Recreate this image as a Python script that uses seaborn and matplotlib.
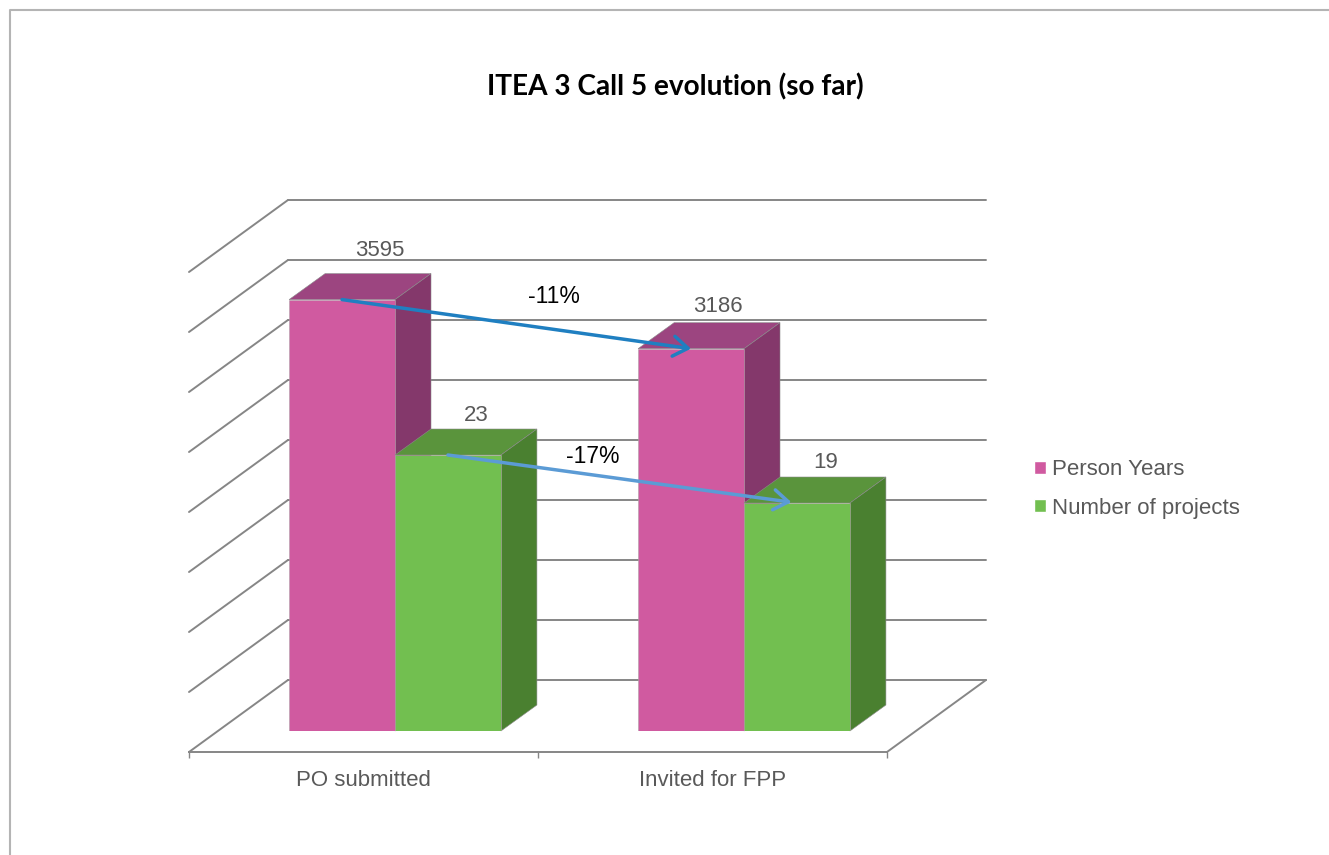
from matplotlib import pyplot as plt
from matplotlib.lines import Line2D
import pandas as pd
import seaborn as sns

stages = ['PO submitted', 'Invited for FPP']
person_years = [3595, 3186]
projects = [23, 19]
series_names = ['Person Years', 'Number of projects']
y_ticks = [0, 500, 1000, 1500, 2000, 2500, 3000, 3500, 4000]

# projects sit on their own axis, 1 project is as tall as 100 person years
PROJECT_SCALE = 100

W, H = 1329, 855
GREY_TEXT = '#595959'
GRID = '#868686'
FRONT = ['#D05AA0', '#72BF50']
TOP = ['#9C4580', '#5A943C']
SIDE = ['#84386B', '#4A8030']
ARROWS = ['#1F7FC1', '#5B9BD5']

# one unit on x is 349 px, one unit on y is 0.12 px
BAR_DX = 36 / 349
BAR_DY = 26 / 0.12
WALL_DX = 99 / 349
WALL_DY = 72 / 0.12

# (x, y) px nudges of the value labels from the back top edge of the bars
LABEL_SHIFT = [[(2, 23), (-9, 16)], [(-8, 14), (-7, 15)]]
# px nudges of the percent labels from the arrow middle
PCT_SHIFT = [(37, 28), (-30, 23)]
# px the arrow heads stop short of the bar centre
ARROW_SHRINK = [0, 4]


def axes_at(fig, left, base, zorder):
    # 2 categories over 698 px and 4000 units over 480 px, base is px from top
    ax = fig.add_axes([left / W, (H - base) / H, 698 / W, 480 / H], zorder=zorder)
    ax.set_xlim(-0.5, 1.5)
    ax.set_ylim(0, 4000)
    ax.patch.set_visible(False)
    ax.spines[['top', 'left', 'right', 'bottom']].set_visible(False)
    ax.set_yticks([])
    return ax


sns.set_theme(style='white')
plt.rcParams['font.family'] = ['Liberation Sans', 'DejaVu Sans']

df = pd.DataFrame({
    'stage': stages * 2,
    'series': [series_names[0]] * 2 + [series_names[1]] * 2,
    'value': person_years + [p * PROJECT_SCALE for p in projects],
})

fig = plt.figure(figsize=(W / 100, H / 100), dpi=100, facecolor='white')

# outer frame of the slide
fig.add_artist(Line2D([10 / W, 10 / W, 1], [0, 1 - 10 / H, 1 - 10 / H], color='#B4B4B4', lw=1.5))

# back wall with the gridlines
wall = axes_at(fig, 288, 680, 0)
wall.set_yticks(y_ticks)
wall.set_yticklabels([])
wall.set_xticks([])
wall.tick_params(length=0)
wall.grid(axis='y', color=GRID, lw=1.4)
wall.grid(axis='x', visible=False)
for gridline in wall.get_ygridlines():
    gridline.set_clip_on(False)

# front edge of the floor, carries the category labels
front = axes_at(fig, 189, 752, 1)
front.spines['bottom'].set_visible(True)
front.spines['bottom'].set_color(GRID)
front.spines['bottom'].set_linewidth(1.4)
front.set_xticks([0, 1])
front.set_xticklabels(stages, fontsize=16, color=GREY_TEXT)
front.set_xticks([-0.5, 0.5, 1.5], minor=True)
front.tick_params(axis='x', which='major', length=0, pad=13)
front.tick_params(axis='x', which='minor', length=4, width=1, color=GRID, bottom=True)
for t in y_ticks:
    front.plot([-0.5, -0.5 + WALL_DX], [t, t + WALL_DY], color=GRID, lw=1.4, clip_on=False, zorder=1)
front.plot([1.5, 1.5 + WALL_DX], [0, WALL_DY], color=GRID, lw=1.4, clip_on=False)

# the bars
ax = axes_at(fig, 220.5, 731, 2)
sns.barplot(data=df, x='stage', y='value', hue='series', palette=FRONT, hue_order=series_names,
            order=stages, width=0.607, gap=0, saturation=1, ax=ax)
ax.set_xlim(-0.5, 1.5)
ax.set_ylim(0, 4000)
ax.set_xlabel('')
ax.set_ylabel('')
ax.set_xticks([])
ax.set_yticks([])

tops = []
for s, container in enumerate(ax.containers):
    tops.append([])
    for i, bar in enumerate(container):
        x0 = bar.get_x()
        x1 = x0 + bar.get_width()
        h = bar.get_height()
        z = 2 + s
        bar.set_zorder(z + 0.5)
        bar.set_edgecolor('#B0A0A8')
        bar.set_linewidth(0.4)
        ax.fill([x0, x1, x1 + BAR_DX, x0 + BAR_DX], [h, h, h + BAR_DY, h + BAR_DY],
                color=TOP[s], lw=0.4, ec='#8A8A8A', zorder=z, clip_on=False)
        ax.fill([x1, x1, x1 + BAR_DX, x1 + BAR_DX], [0, h, h + BAR_DY, BAR_DY],
                color=SIDE[s], lw=0.4, ec='#8A8A8A', zorder=z, clip_on=False)
        tops[s].append(((x0 + x1) / 2, h))

        raw = [person_years, projects][s][i]
        sx, sy = LABEL_SHIFT[s][i]
        ax.annotate(str(raw), ((x0 + x1) / 2 + BAR_DX, h + BAR_DY), xytext=(sx * 0.72, sy * 0.72),
                    textcoords='offset points', ha='center', va='center', fontsize=16,
                    color=GREY_TEXT, zorder=8, annotation_clip=False)

# change arrows from the first stage to the second, with their percent
for s, values in enumerate([person_years, projects]):
    (xa, ya), (xb, yb) = tops[s]
    ax.annotate('', xy=(xb, yb), xytext=(xa, ya), zorder=7, annotation_clip=False,
                arrowprops=dict(arrowstyle='->,head_length=1.05,head_width=0.72', mutation_scale=10,
                                color=ARROWS[s], lw=2.5, shrinkA=0, shrinkB=ARROW_SHRINK[s]))
    pct = round((values[1] - values[0]) / values[0] * 100)
    sx, sy = PCT_SHIFT[s]
    ax.annotate(f'{pct}%', ((xa + xb) / 2, (ya + yb) / 2), xytext=(sx * 0.72, sy * 0.72),
                textcoords='offset points', ha='center', va='center', fontsize=16.5,
                color='black', zorder=8, annotation_clip=False)

sns.move_legend(ax, 'center left', bbox_to_anchor=(1014 / W, 1 - 489 / H), bbox_transform=fig.transFigure,
                title=None, frameon=False, fontsize=16, labelcolor=GREY_TEXT, handlelength=0.55,
                handleheight=0.55, handletextpad=0.25, labelspacing=0.77)

fig.text(675 / W, 1 - 87 / H, 'ITEA 3 Call 5 evolution (so far)', ha='center', va='center',
         fontsize=20.2, fontweight='bold', family='Lato', color='black')

fig.savefig('out.png', dpi=100)
